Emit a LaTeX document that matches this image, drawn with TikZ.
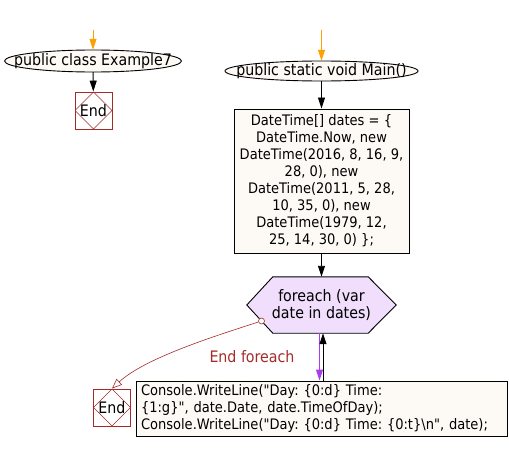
\documentclass[tikz,border=0pt]{standalone}
\usepackage{fontspec}
\setmainfont{DejaVu Sans Condensed}[Ligatures=TeXOff]
\usetikzlibrary{shapes.geometric,arrows.meta,backgrounds,calc}
\definecolor{cream}{RGB}{253,250,245}
\definecolor{lav}{RGB}{240,222,252}
\definecolor{endred}{RGB}{165,42,42}
\definecolor{orng}{RGB}{255,160,0}
\definecolor{purp}{RGB}{170,60,240}
\begin{document}
\frenchspacing
\begin{tikzpicture}[x=1pt,y=-1pt,
  font=\fontsize{14.5}{17}\selectfont,
  every node/.style={inner sep=0pt},
  bigtext/.style={font=\fontsize{15.8}{17}\selectfont},
  ellnode/.style={rectangle,bigtext},
  ellshape/.style={draw,fill=cream,line width=0.9pt},
  endbox/.style={draw=endred,fill=white,line width=0.9pt,minimum size=37pt,bigtext,
    path picture={\draw[endred,line width=0.6pt]
      (path picture bounding box.north) -- (path picture bounding box.east) --
      (path picture bounding box.south) -- (path picture bounding box.west) -- cycle;}},
  boxnode/.style={draw,fill=cream,line width=0.9pt},
  arr/.style={-{Triangle[length=11pt,width=7pt]},line width=0.9pt},
  openarr/.style={-{Triangle[open,length=10pt,width=8pt]},line width=0.6pt,draw=endred},
]
\useasboundingbox (0,0) rectangle (509,452);

% left column
\coordinate (o1) at (93,30);
\node[ellnode,minimum width=177pt,minimum height=22pt] (e1) at (93,61) {public class Example7};
\node[endbox] (end1) at (93.5,110.5) {End};

% main column
\coordinate (o2) at (321.5,30);
\node[ellnode,minimum width=193pt,minimum height=20pt] (e2) at (321.5,71) {public static void Main()};
\begin{scope}[on background layer]
  \draw[ellshape] (e1.center) ellipse [x radius=88.5pt, y radius=11pt];
  \draw[ellshape] (e2.center) ellipse [x radius=96.5pt, y radius=10pt];
\end{scope}
\node[boxnode,minimum width=175pt,minimum height=144pt,align=center] (decl) at (321.5,181)
  {DateTime[] dates = \{\\DateTime.Now, new\\DateTime(2016, 8, 16, 9,\\28, 0), new\\DateTime(2011, 5, 28,\\10, 35, 0), new\\DateTime(1979, 12,\\25, 14, 30, 0) \};};
\node[minimum width=149pt,minimum height=56pt,align=center,bigtext] (hex) at (321.5,305) {foreach (var\\date in dates)};
\begin{scope}[on background layer]
  \draw[fill=lav,line width=0.9pt] (hex.west) -- ($(hex.north west)+(26,0)$) -- ($(hex.north east)+(-28,0)$)
    -- (hex.east) -- ($(hex.south east)+(-28,0)$) -- ($(hex.south west)+(26,0)$) -- cycle;
\end{scope}
\node[boxnode,minimum width=371pt,minimum height=55pt,text width=361pt,inner xsep=5pt,align=left] (cons) at (321.5,408.5)
  {Console.WriteLine("Day: \{0:d\} Time:\\\{1:g\}", date.Date, date.TimeOfDay);\\Console.WriteLine("Day: \{0:d\} Time: \{0:t\}\textbackslash n", date);};
\node[endbox] (end2) at (112,407.5) {End};

\draw[arr,orng] (o1) -- (e1);
\draw[arr] (e1) -- (end1);
\draw[arr,orng] (o2) -- (e2);
\draw[arr] (e2) -- (decl);
\draw[arr] (decl) -- (hex);
\draw[arr,purp] ([xshift=-2pt]hex.south) -- ([xshift=-2pt]cons.north);
\draw[arr] ([xshift=1.5pt]cons.north) -- ([xshift=1.5pt]hex.south);

% end foreach
\node[circle,draw=endred,fill=white,minimum size=6pt,line width=0.6pt] (c) at (261.5,321) {};
\draw[openarr] (c) .. controls (215,336) and (145,358) .. (end2.north);
\node[text=endred,bigtext] (lbl) at (252,357) {End foreach};
\end{tikzpicture}
\end{document}
